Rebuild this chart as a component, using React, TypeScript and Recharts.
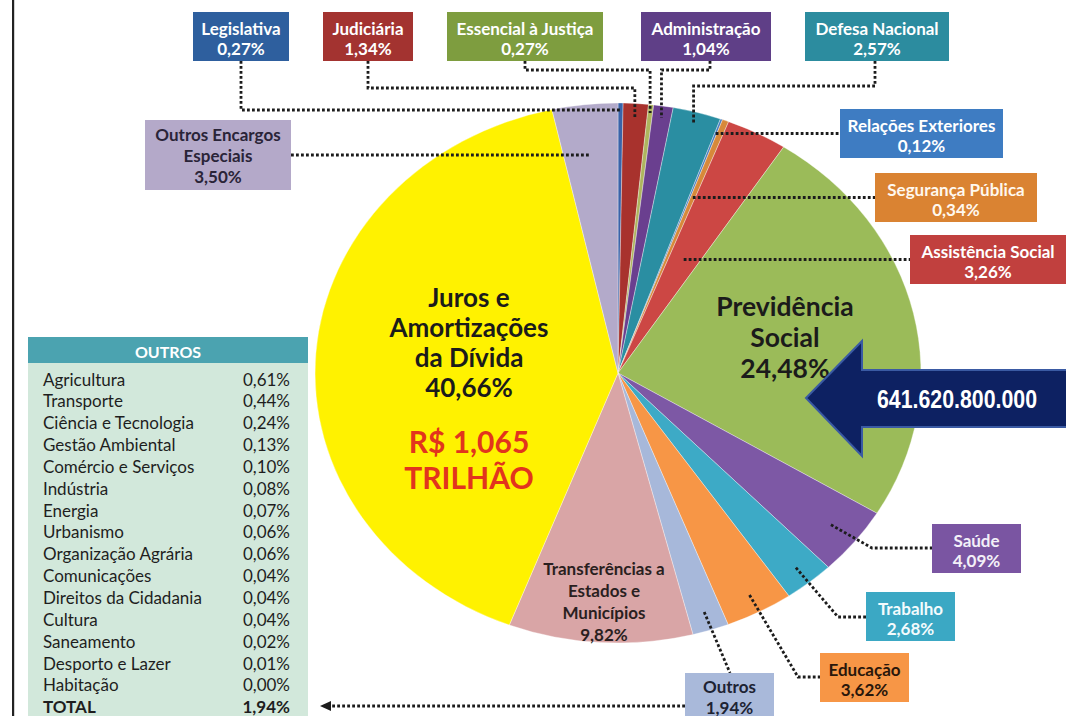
import React from 'react';
import { PieChart, Pie, Cell } from 'recharts';

// ---------- DATA ----------
const categories = [
  'Legislativa',
  'Judiciária',
  'Essencial à Justiça',
  'Administração',
  'Defesa Nacional',
  'Relações Exteriores',
  'Segurança Pública',
  'Assistência Social',
  'Previdência Social',
  'Saúde',
  'Trabalho',
  'Educação',
  'Outros',
  'Transferências a Estados e Municípios',
  'Juros e Amortizações da Dívida',
  'Outros Encargos Especiais',
];
const shares = [0.27, 1.34, 0.27, 1.04, 2.57, 0.12, 0.34, 3.26, 24.48, 4.09, 2.68, 3.62, 1.94, 9.82, 40.66, 3.5];
const sliceColors = [
  '#3A63A8', '#A8322D', '#AEB55E', '#6A3F8F', '#2A8EA2', '#4A7EC2', '#D7893A', '#CC4744',
  '#9BBB59', '#7D58A5', '#3DAAC6', '#F79646', '#A7B8DA', '#D9A5A6', '#FFF200', '#B3AACA',
];

const outrosNames = [
  'Agricultura', 'Transporte', 'Ciência e Tecnologia', 'Gestão Ambiental', 'Comércio e Serviços',
  'Indústria', 'Energia', 'Urbanismo', 'Organização Agrária', 'Comunicações', 'Direitos da Cidadania',
  'Cultura', 'Saneamento', 'Desporto e Lazer', 'Habitação',
];
const outrosValues = [0.61, 0.44, 0.24, 0.13, 0.1, 0.08, 0.07, 0.06, 0.06, 0.04, 0.04, 0.04, 0.02, 0.01, 0.0];
const outrosTotal = 1.94;

const debtTotalText = 'R$ 1,065';
const debtUnitText = 'TRILHÃO';
const previdenciaAmount = '641.620.800.000';

const data = categories.map((name, i) => ({ name, value: shares[i] }));

// ---------- LAYOUT ----------
const W = 1066;
const H = 716;
const CX = 618;
const CY = 373;
const R = 270;
const SX = 1.122; // horizontal stretch of the pie
const RAD = Math.PI / 180;
const FONT = 'Lato, "Open Sans", sans-serif';
const BOX_FS = 17;
const TABLE_FS = 17;

const pct = (v: number) => v.toFixed(2).replace('.', ',') + '%';

type Layout = any;
const labelLayout: Record<string, Layout> = {
  'Legislativa': { kind: 'top', box: [193, 12, 96, 49], bg: '#2E5F9E', fg: '#ffffff', lx: 241, hy: 110, ay: 110 },
  'Judiciária': { kind: 'top', box: [323, 12, 90, 49], bg: '#A33330', fg: '#ffffff', lx: 368, hy: 88, ay: 119 },
  'Essencial à Justiça': { kind: 'top', box: [447, 12, 156, 49], bg: '#7E9D3F', fg: '#ffffff', lx: 525, hy: 70, ay: 113 },
  'Administração': { kind: 'top', box: [641, 12, 130, 49], bg: '#5F3F87', fg: '#ffffff', lx: 710, hy: 70, ay: 118 },
  'Defesa Nacional': { kind: 'top', box: [805, 12, 144, 49], bg: '#2C8C9F', fg: '#ffffff', lx: 875, hy: 86, ay: 124 },
  'Relações Exteriores': { kind: 'right', box: [840, 109, 163, 49], bg: '#3E7CC2', fg: '#ffffff' },
  'Segurança Pública': { kind: 'right', box: [875, 173, 162, 49], bg: '#DA8332', fg: '#fff8ee' },
  'Assistência Social': { kind: 'right', box: [910, 235, 156, 49], bg: '#C1403E', fg: '#ffffff' },
  'Previdência Social': { kind: 'inside', x: 785, y: 306, lh: 31, fs: 26.5, lines: ['Previdência', 'Social'], color: '#1b1b1b' },
  'Saúde': { kind: 'elbow', box: [932, 524, 89, 49], bg: '#7A55A2', fg: '#f3f0f8', t: 0.9, bend: [872, 548] },
  'Trabalho': { kind: 'elbow', box: [866, 592, 89, 49], bg: '#3BA8C4', fg: '#f3fbfd', t: 0.93, bend: [838, 617] },
  'Educação': { kind: 'elbow', box: [820, 653, 89, 49], bg: '#F79646', fg: '#2a170b', t: 0.93, bend: [798, 677] },
  'Outros': { kind: 'down', box: [685, 673, 89, 49], bg: '#A9B9DA', fg: '#1d2333', t: 0.93, end: [730, 673], ty: [13, 34] },
  'Transferências a Estados e Municípios': { kind: 'inside', x: 604, y: 568, lh: 22, fs: 17, lines: ['Transferências a', 'Estados e', 'Municípios'], color: '#2a1f1f' },
  'Juros e Amortizações da Dívida': { kind: 'inside', x: 469, y: 297, lh: 30, fs: 26, lines: ['Juros e', 'Amortizações', 'da Dívida'], color: '#1b1b1b', extra: true },
  'Outros Encargos Especiais': { kind: 'left', box: [145, 120, 146, 70], bg: '#B4A9C9', fg: '#2a2438', wrap: ['Outros Encargos', 'Especiais'] },
};

const DOT = { stroke: '#1c1c1c', strokeWidth: 2.8, strokeDasharray: '2.8 2.2', fill: 'none' };

function rayAtY(cx: number, cy: number, mid: number, y: number): [number, number] {
  const dx = Math.cos(mid * RAD) * R * SX;
  const dy = -Math.sin(mid * RAD) * R;
  const t = (y - cy) / dy;
  return [cx + dx * t, y];
}
function rayAtT(cx: number, cy: number, mid: number, t: number): [number, number] {
  return [cx + Math.cos(mid * RAD) * R * SX * t, cy - Math.sin(mid * RAD) * R * t];
}

function Box({ box, bg, fg, lines, ty }: any) {
  const [x, y, w, h] = box;
  const offs = ty || (lines.length === 3 ? [14, 35, 56] : [16, 36]);
  return (
    <g>
      <rect x={x} y={y} width={w} height={h} fill={bg} />
      {lines.map((ln: string, i: number) => (
        <text key={i} x={x + w / 2} y={y + offs[i]} textAnchor="middle" dominantBaseline="central"
          fontFamily={FONT} fontWeight={700} fontSize={BOX_FS} fill={fg}>{ln}</text>
      ))}
    </g>
  );
}

const renderLabel = (props: any) => {
  const { cx, cy, midAngle, index } = props;
  const name = categories[index];
  const value = shares[index];
  const L = labelLayout[name];
  if (!L) return null;
  const valueText = pct(value);

  if (L.kind === 'inside') {
    const lines = [...L.lines, valueText];
    return (
      <g>
        {lines.map((ln: string, i: number) => (
          <text key={i} x={L.x} y={L.y + i * L.lh} textAnchor="middle" dominantBaseline="central"
            fontFamily={FONT} fontWeight={700} fontSize={L.fs} fill={L.color}>{ln}</text>
        ))}
        {L.extra && (
          <g>
            <text x={L.x} y={441} textAnchor="middle" dominantBaseline="central" fontFamily={FONT}
              fontWeight={700} fontSize={30} fill="#E2341D">{debtTotalText}</text>
            <text x={L.x} y={477} textAnchor="middle" dominantBaseline="central" fontFamily={FONT}
              fontWeight={700} fontSize={30} fill="#E2341D">{debtUnitText}</text>
          </g>
        )}
      </g>
    );
  }

  const [bx, by, bw, bh] = L.box;
  const boxLines = L.wrap ? [...L.wrap, valueText] : [name, valueText];
  let path = '';
  if (L.kind === 'top') {
    const [ax, ay] = rayAtY(cx, cy, midAngle, L.ay);
    path = `M${L.lx},${by + bh} L${L.lx},${L.hy} L${ax},${L.hy} L${ax},${ay}`;
  } else if (L.kind === 'right') {
    const yc = by + bh / 2;
    const [ax] = rayAtY(cx, cy, midAngle, yc);
    path = `M${ax},${yc} L${bx},${yc}`;
  } else if (L.kind === 'left') {
    const yc = by + bh / 2;
    const [ax] = rayAtY(cx, cy, midAngle, yc);
    path = `M${bx + bw},${yc} L${ax},${yc}`;
  } else if (L.kind === 'elbow') {
    const [ax, ay] = rayAtT(cx, cy, midAngle, L.t);
    path = `M${ax},${ay} L${L.bend[0]},${L.bend[1]} L${bx},${L.bend[1]}`;
  } else if (L.kind === 'down') {
    const [ax, ay] = rayAtT(cx, cy, midAngle, L.t);
    path = `M${ax},${ay} L${L.end[0]},${L.end[1]}`;
  }
  return (
    <g>
      <path d={path} {...DOT} />
      <Box box={L.box} bg={L.bg} fg={L.fg} lines={boxLines} ty={L.ty} />
    </g>
  );
};

function Overlay() {
  const rowY0 = 379;
  const rowH = 21.85;
  return (
    <svg width={W} height={H} style={{ position: 'absolute', left: 0, top: 0, pointerEvents: 'none' }}>
      {/* left frame line */}
      <rect x={12} y={0} width={2.2} height={H} fill="#222" />
      {/* OUTROS table */}
      <rect x={28} y={337} width={280} height={26} fill="#4BA3B0" />
      <text x={168} y={351} textAnchor="middle" dominantBaseline="central" fontFamily={FONT}
        fontWeight={700} fontSize={16} fill="#ffffff">OUTROS</text>
      <rect x={28} y={363} width={280} height={H - 363} fill="#D2E8DB" />
      {outrosNames.map((n, i) => (
        <g key={n}>
          <text x={43} y={rowY0 + i * rowH} dominantBaseline="central" fontFamily={FONT} fontSize={TABLE_FS} fill="#1e1e1e">{n}</text>
          <text x={290} y={rowY0 + i * rowH} textAnchor="end" dominantBaseline="central" fontFamily={FONT} fontSize={TABLE_FS} fill="#1e1e1e">{pct(outrosValues[i])}</text>
        </g>
      ))}
      <text x={43} y={rowY0 + 15 * rowH} dominantBaseline="central" fontFamily={FONT} fontWeight={700} fontSize={TABLE_FS} fill="#1e1e1e">TOTAL</text>
      <text x={290} y={rowY0 + 15 * rowH} textAnchor="end" dominantBaseline="central" fontFamily={FONT} fontWeight={700} fontSize={TABLE_FS} fill="#1e1e1e">{pct(outrosTotal)}</text>
      {/* Outros -> table pointer */}
      <path d="M685,706 L332,706" {...DOT} />
      <polygon points="320,706 331,701 331,711" fill="#1c1c1c" />
      {/* big arrow */}
      <polygon points="806,398 862,341 862,370 1070,370 1070,427 862,427 862,456" fill="#0D2162" stroke="#3A5AA3" strokeWidth={2} />
      <text transform="translate(957,399) scale(0.82,1)" x={0} y={0} textAnchor="middle" dominantBaseline="central"
        fontFamily='"Liberation Sans", Arial, sans-serif' fontWeight={700} fontSize={26} fill="#ffffff">{previdenciaAmount}</text>
    </svg>
  );
}

export default function App() {
  return (
    <div style={{ position: 'absolute', left: 0, top: 0, width: W, height: H, background: '#ffffff', overflow: 'hidden' }}>
      <style>{`.recharts-sector { transform-box: view-box; transform-origin: ${CX}px ${CY}px; transform: scaleX(${SX}); }`}</style>
      <PieChart width={W} height={H} margin={{ top: 0, right: 0, bottom: 0, left: 0 }}>
        <Pie
          data={data}
          dataKey="value"
          nameKey="name"
          cx={CX}
          cy={CY}
          outerRadius={R}
          innerRadius={0}
          startAngle={90}
          endAngle={-270}
          isAnimationActive={false}
          label={renderLabel}
          labelLine={false}
        >
          {data.map((d, i) => (
            <Cell key={d.name} fill={sliceColors[i]} stroke="rgba(255,255,255,0.55)" strokeWidth={0.6} />
          ))}
        </Pie>
      </PieChart>
      <Overlay />
    </div>
  );
}
